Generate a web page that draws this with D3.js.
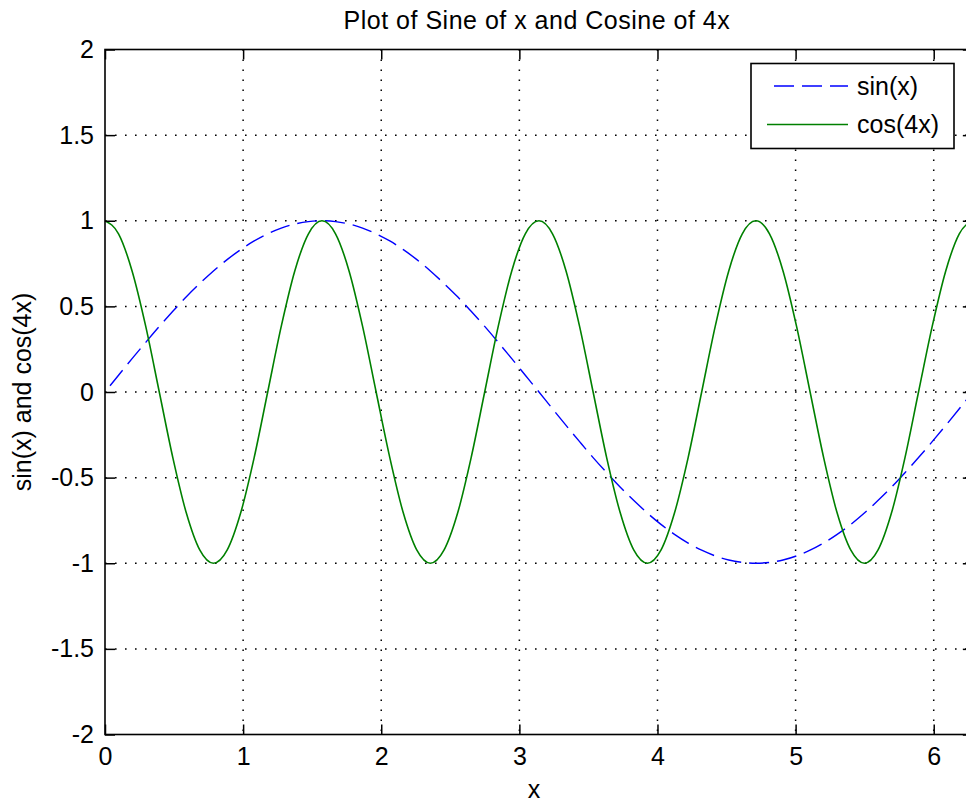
<!DOCTYPE html>
<html>
<head>
<meta charset="utf-8">
<script src="https://cdn.jsdelivr.net/npm/d3@7/dist/d3.min.js"></script>
<style>
  html, body { margin: 0; padding: 0; background: #ffffff; }
  svg { display: block; }
  text { font-family: "Liberation Sans", Arial, Helvetica, sans-serif; fill: #000; }
</style>
</head>
<body>
<svg id="chart" width="966" height="803"></svg>
<script>
// Sample positions along x (0 .. 2π, step π/32)
const xValues = [
  0, 0.098, 0.196, 0.295, 0.393, 0.491, 0.589, 0.687, 0.785, 0.884, 0.982, 1.080, 1.178,
  1.276, 1.374, 1.473, 1.571, 1.669, 1.767, 1.865, 1.963, 2.062, 2.160, 2.258, 2.356,
  2.454, 2.553, 2.651, 2.749, 2.847, 2.945, 3.043, 3.142, 3.240, 3.338, 3.436, 3.534,
  3.632, 3.731, 3.829, 3.927, 4.025, 4.123, 4.222, 4.320, 4.418, 4.516, 4.614, 4.712,
  4.811, 4.909, 5.007, 5.105, 5.203, 5.301, 5.400, 5.498, 5.596, 5.694, 5.792, 5.890,
  5.989, 6.087, 6.185, 6.283
];

// sin(x) series
const sinValues = [
  0, 0.098, 0.195, 0.290, 0.383, 0.471, 0.556, 0.634, 0.707, 0.773, 0.831, 0.882, 0.924,
  0.957, 0.981, 0.995, 1, 0.995, 0.981, 0.957, 0.924, 0.882, 0.831, 0.773, 0.707,
  0.634, 0.556, 0.471, 0.383, 0.290, 0.195, 0.098, 0, -0.098, -0.195, -0.290, -0.383,
  -0.471, -0.556, -0.634, -0.707, -0.773, -0.831, -0.882, -0.924, -0.957, -0.981, -0.995, -1,
  -0.995, -0.981, -0.957, -0.924, -0.882, -0.831, -0.773, -0.707, -0.634, -0.556, -0.471, -0.383,
  -0.290, -0.195, -0.098, 0
];

// cos(4x) series
const cosValues = [
  1, 0.924, 0.707, 0.383, 0, -0.383, -0.707, -0.924, -1, -0.924, -0.707, -0.383, 0,
  0.383, 0.707, 0.924, 1, 0.924, 0.707, 0.383, 0, -0.383, -0.707, -0.924, -1,
  -0.924, -0.707, -0.383, 0, 0.383, 0.707, 0.924, 1, 0.924, 0.707, 0.383, 0,
  -0.383, -0.707, -0.924, -1, -0.924, -0.707, -0.383, 0, 0.383, 0.707, 0.924, 1,
  0.924, 0.707, 0.383, 0, -0.383, -0.707, -0.924, -1, -0.924, -0.707, -0.383, 0,
  0.383, 0.707, 0.924, 1
];

const xTicks = [0, 1, 2, 3, 4, 5, 6];
const yTicks = [-2, -1.5, -1, -0.5, 0, 0.5, 1, 1.5, 2];
const seriesNames = ["sin(x)", "cos(4x)"];
const seriesColors = ["#0000ff", "#008000"];

const svg = d3.select("#chart");
const plotLeft = 105, plotTop = 49.5, plotBottom = 734.5;
const unitX = 138.12;
const plotRight = plotLeft + 2 * Math.PI * unitX;

const x = d3.scaleLinear().domain([0, 2 * Math.PI]).range([plotLeft, plotRight]);
const y = d3.scaleLinear().domain([-2, 2]).range([plotBottom, plotTop]);

const fontSize = 25;

// Plot background
svg.append("rect").attr("x", plotLeft).attr("y", plotTop)
  .attr("width", plotRight - plotLeft).attr("height", plotBottom - plotTop).attr("fill", "#fff");

// Dotted grid
const grid = svg.append("g").attr("stroke", "#000").attr("stroke-width", 1.5)
  .attr("stroke-dasharray", "1.6 8.4");
grid.selectAll(".gx").data(xTicks.filter(d => d > 0)).enter().append("line")
  .attr("x1", d => x(d)).attr("x2", d => x(d))
  .attr("y1", plotTop).attr("y2", plotBottom);
grid.selectAll(".gy").data(yTicks.filter(d => d > -2 && d < 2)).enter().append("line")
  .attr("x1", plotLeft).attr("x2", plotRight)
  .attr("y1", d => y(d)).attr("y2", d => y(d));

// Curves, clipped to the axes box
svg.append("clipPath").attr("id", "plotclip").append("rect")
  .attr("x", plotLeft).attr("y", plotTop)
  .attr("width", plotRight - plotLeft).attr("height", plotBottom - plotTop);

const line = d3.line().curve(d3.curveMonotoneX);
const sinPts = xValues.map((v, i) => [x(v), y(sinValues[i])]);
const cosPts = xValues.map((v, i) => [x(v), y(cosValues[i])]);

const curves = svg.append("g").attr("clip-path", "url(#plotclip)").attr("fill", "none");
curves.append("path").attr("d", line(sinPts))
  .attr("stroke", seriesColors[0]).attr("stroke-width", 1.4)
  .attr("stroke-dasharray", "20 8").attr("stroke-dashoffset", 20);
curves.append("path").attr("d", line(cosPts))
  .attr("stroke", seriesColors[1]).attr("stroke-width", 1.6);

// Axes with inward ticks on all four sides
const tickLen = 10;
const axisG = svg.append("g");
const xAxisB = d3.axisBottom(x).tickValues(xTicks).tickSize(-tickLen).tickPadding(13)
  .tickFormat(d3.format("d"));
const xAxisT = d3.axisTop(x).tickValues(xTicks).tickSize(-tickLen).tickFormat("");
const yAxisL = d3.axisLeft(y).tickValues(yTicks).tickSize(-tickLen).tickPadding(11)
  .tickFormat(d => String(d));
const yAxisR = d3.axisRight(y).tickValues(yTicks).tickSize(-tickLen).tickFormat("");

function styleAxis(g) {
  g.select(".domain").remove();
  g.selectAll(".tick line").attr("stroke", "#000").attr("stroke-width", 1.5);
  g.selectAll(".tick text").attr("font-size", fontSize)
    .attr("font-family", "'Liberation Sans', Arial, sans-serif").attr("fill", "#000");
}
axisG.append("g").attr("transform", `translate(0,${plotBottom})`).call(xAxisB).call(styleAxis);
axisG.append("g").attr("transform", `translate(0,${plotTop})`).call(xAxisT).call(styleAxis);
axisG.append("g").attr("transform", `translate(${plotLeft},0)`).call(yAxisL).call(styleAxis);
axisG.append("g").attr("transform", `translate(${plotRight},0)`).call(yAxisR).call(styleAxis);

// Axes box
svg.append("rect").attr("x", plotLeft).attr("y", plotTop)
  .attr("width", plotRight - plotLeft).attr("height", plotBottom - plotTop)
  .attr("fill", "none").attr("stroke", "#000").attr("stroke-width", 1.6);

// Title and axis labels
const cx = (plotLeft + plotRight) / 2;
svg.append("text").attr("x", cx - 2).attr("y", 29).attr("text-anchor", "middle")
  .attr("font-size", fontSize).attr("letter-spacing", 0.5)
  .text("Plot of Sine of x and Cosine of 4x");
svg.append("text").attr("x", cx - 5).attr("y", 798).attr("text-anchor", "middle")
  .attr("font-size", fontSize).text("x");
svg.append("text").attr("transform", `translate(31,${(plotTop + plotBottom) / 2}) rotate(-90)`)
  .attr("text-anchor", "middle").attr("font-size", fontSize).text("sin(x) and cos(4x)");

// Legend
const lg = svg.append("g");
lg.append("rect").attr("x", 751).attr("y", 63.5).attr("width", 203).attr("height", 85)
  .attr("fill", "#fff").attr("stroke", "#000").attr("stroke-width", 1.6);
lg.append("line").attr("x1", 774).attr("x2", 848).attr("y1", 86).attr("y2", 86)
  .attr("stroke", seriesColors[0]).attr("stroke-width", 1.6).attr("stroke-dasharray", "20 8");
lg.append("line").attr("x1", 767).attr("x2", 848).attr("y1", 124.5).attr("y2", 124.5)
  .attr("stroke", seriesColors[1]).attr("stroke-width", 1.6);
lg.append("text").attr("x", 857).attr("y", 86).attr("dy", "0.35em")
  .attr("font-size", fontSize).text(seriesNames[0]);
lg.append("text").attr("x", 857).attr("y", 124.5).attr("dy", "0.35em")
  .attr("font-size", fontSize).text(seriesNames[1]);
</script>
</body>
</html>
